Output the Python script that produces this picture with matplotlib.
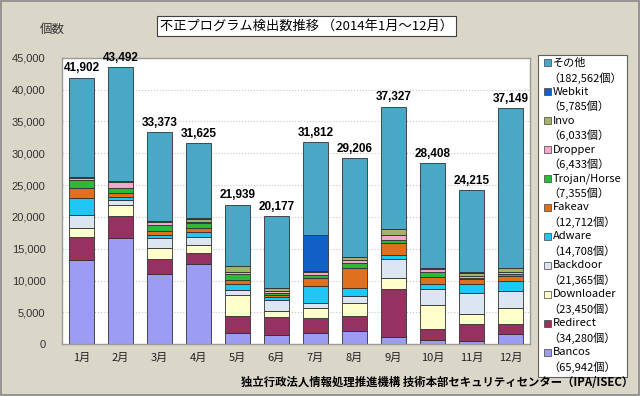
import matplotlib.pyplot as plt
from matplotlib.patches import Rectangle
from matplotlib.ticker import FuncFormatter

plt.rcParams['font.family'] = ['Noto Sans CJK JP', 'DejaVu Sans']

months = ['1月', '2月', '3月', '4月', '5月', '6月', '7月', '8月', '9月', '10月', '11月', '12月']
totals = [41902, 43492, 33373, 31625, 21939, 20177, 31812, 29206, 37327, 28408, 24215, 37149]

# stacked series, bottom to top
bancos     = [13200, 16670, 11090, 12660, 1690, 1370, 1690, 2050, 1100, 580, 470, 1530]
redirect   = [3670, 3470, 2260, 1630, 2730, 2890, 2370, 2370, 7520, 1730, 2630, 1580]
downloader = [1340, 1730, 1680, 1260, 3260, 950, 1580, 2000, 1730, 3830, 1580, 2520]
backdoor   = [2130, 790, 1580, 1210, 790, 1680, 890, 1150, 3000, 2470, 3310, 2730]
adware     = [2600, 520, 580, 790, 1050, 520, 2630, 1310, 630, 890, 1420, 1580]
fakeav     = [1580, 580, 630, 680, 630, 320, 1210, 3150, 1840, 1100, 790, 790]
trojan     = [1290, 740, 950, 790, 840, 360, 470, 680, 520, 790, 260, 260]
dropper    = [360, 950, 470, 200, 420, 230, 420, 520, 740, 470, 210, 360]
invo       = [150, 160, 150, 520, 840, 470, 260, 470, 1000, 160, 580, 580]
webkit     = [20, 20, 15, 15, 10, 10, 5600, 20, 20, 20, 15, 20]
other      = [15562, 17862, 13968, 11870, 9679, 11377, 14692, 15486, 19227, 16368, 12950, 25199]

series = [bancos, redirect, downloader, backdoor, adware, fakeav, trojan, dropper, invo, webkit, other]
names = ['Bancos', 'Redirect', 'Downloader', 'Backdoor', 'Adware', 'Fakeav',
         'Trojan/Horse', 'Dropper', 'Invo', 'Webkit', 'その他']
legend_counts = ['65,942', '34,280', '23,450', '21,365', '14,708', '12,712',
                 '7,355', '6,433', '6,033', '5,785', '182,562']
colors = ['#9C9CF4', '#953262', '#FFFFCC', '#DCE6F0', '#1FC8F4', '#E0701E',
          '#2CB83A', '#F4A6CC', '#A3B466', '#1060C8', '#4AA8C6']

bg = '#DAD6C8'
fig = plt.figure(figsize=(6.4, 3.96), dpi=100, facecolor=bg)
ax = fig.add_axes([0.097, 0.131, 0.731, 0.723])
ax.set_facecolor('white')

x = list(range(len(months)))
bottom = [0] * len(months)
for vals, c in zip(series, colors):
    ax.bar(x, vals, width=0.66, bottom=bottom, color=c, edgecolor='#303030', linewidth=0.6)
    bottom = [b + v for b, v in zip(bottom, vals)]

for xi, t in zip(x, totals):
    ax.text(xi, t + 500, f'{t:,}', ha='center', va='bottom', fontsize=8.5,
            fontweight='bold', family=['Liberation Sans', 'DejaVu Sans'])

ax.set_xlim(-0.5, 11.5)
ax.set_ylim(0, 45000)
ax.set_yticks(range(0, 45001, 5000))
ax.yaxis.set_major_formatter(FuncFormatter(lambda v, p: f'{int(v):,}'))
ax.set_xticks(x)
ax.set_xticklabels(months)
ax.tick_params(axis='y', length=0, pad=12, labelsize=8, labelcolor='#333333')
ax.tick_params(axis='x', length=0, pad=6, labelsize=8, labelcolor='#222222')
for lab in ax.get_yticklabels():
    lab.set_family(['Liberation Sans', 'DejaVu Sans'])
ax.grid(axis='y', color='#C8C8C8', linestyle=':', linewidth=0.8)
ax.set_axisbelow(True)
for s in ax.spines.values():
    s.set_color('#9A9A9A')
    s.set_linewidth(1)

# title box
fig.text(0.25, 0.935, '不正プログラム検出数推移 （2014年1月～12月）', fontsize=9.5,
         ha='left', va='center',
         bbox=dict(boxstyle='square,pad=0.25', facecolor='white', edgecolor='#404040', linewidth=0.8))
fig.text(0.063, 0.925, '個数', fontsize=9, color='#333333', ha='left', va='center')

# legend drawn by hand
W, H = 640, 396
fig.patches.append(Rectangle((538 / W, 1 - 377 / H), 89 / W, 322 / H, transform=fig.transFigure,
                             facecolor='white', edgecolor='#606060', linewidth=0.8))
for i in range(len(names)):
    k = len(names) - 1 - i
    y = 62.7 + i * 28.96
    fig.patches.append(Rectangle((544 / W, 1 - (y + 3.5) / H), 7 / W, 7 / H, transform=fig.transFigure,
                                 facecolor=colors[k], edgecolor='#404040', linewidth=0.5))
    fig.text(553 / W, 1 - y / H, names[k], fontsize=8, ha='left', va='center')
    fig.text(548 / W, 1 - (y + 15) / H, '（' + legend_counts[k] + '個）', fontsize=8,
             ha='left', va='center')

fig.text(0.99, 1 - 383 / H, '独立行政法人情報処理推進機構 技術本部セキュリティセンター（IPA/ISEC）',
         fontsize=8.2, fontweight='bold', ha='right', va='center')

fig.patches.append(Rectangle((0.001, 0.002), 0.997, 0.996, transform=fig.transFigure,
                             facecolor='none', edgecolor='#8A8A8A', linewidth=1.2))

fig.savefig('out.png', dpi=100, facecolor=bg)
